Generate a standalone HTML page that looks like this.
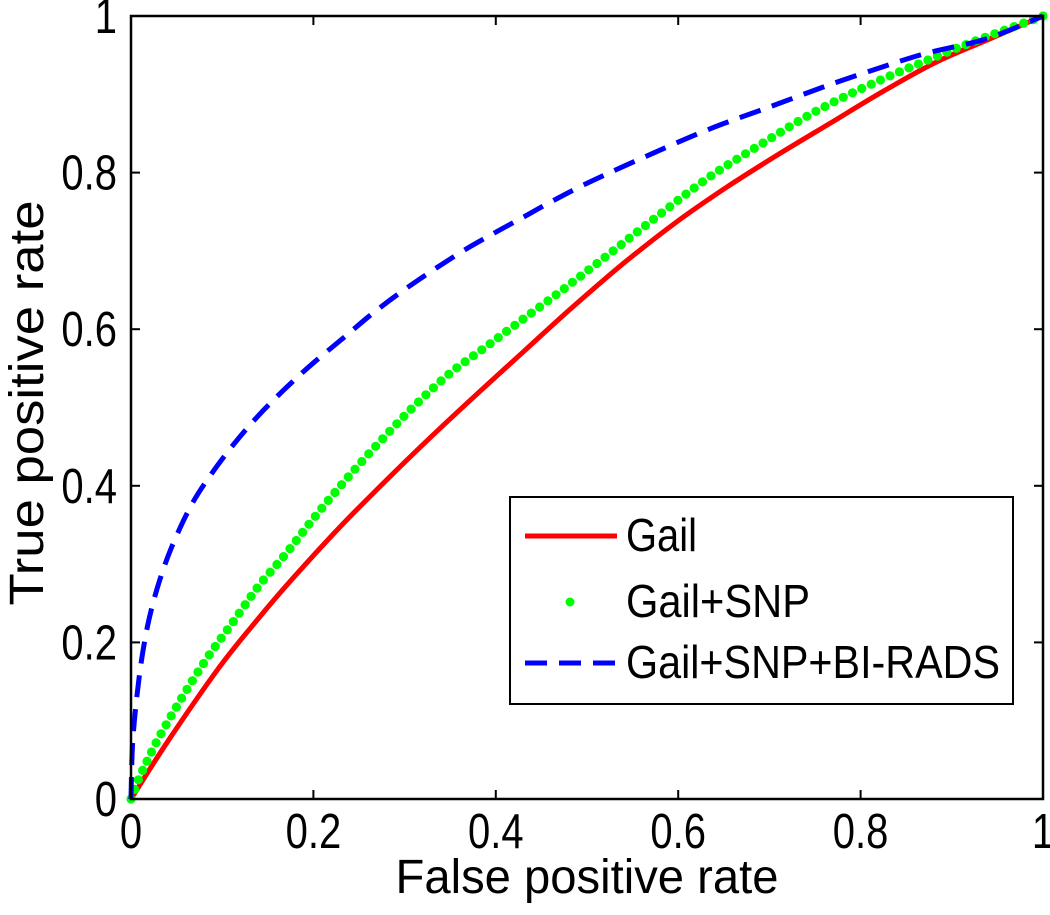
<!DOCTYPE html>
<html><head><meta charset="utf-8"><style>
html,body{margin:0;padding:0;background:#fff;}
svg{display:block;font-family:"Liberation Sans",Arial,sans-serif;}
</style></head><body>
<svg id="chart" width="1050" height="915" viewBox="0 0 1050 915" xmlns="http://www.w3.org/2000/svg">
<rect x="0" y="0" width="1050" height="915" fill="#fff"/>
<g id="series"></g>
<rect x="131" y="16" width="912" height="783" fill="none" stroke="#000" stroke-width="2.5"/>
<g id="ticks"></g>
<g transform="translate(587,893) scale(1,1.2)"><text x="0" y="0" text-anchor="middle" font-size="40" textLength="383" lengthAdjust="spacingAndGlyphs">False positive rate</text></g>
<g transform="translate(43,403) rotate(-90) scale(1,1.2)"><text x="0" y="0" text-anchor="middle" font-size="40" textLength="405" lengthAdjust="spacingAndGlyphs">True positive rate</text></g>
<g>
<rect x="510" y="497" width="503" height="207" fill="#fff" stroke="#000" stroke-width="2"/>
<line x1="525" y1="536" x2="617" y2="536" stroke="#ff0000" stroke-width="5"/>
<g transform="translate(626,551) scale(1,1.15)"><text font-size="40" textLength="71" lengthAdjust="spacingAndGlyphs">Gail</text></g>
<circle cx="570" cy="602" r="4.5" fill="#00ff00"/>
<g transform="translate(626,617) scale(1,1.15)"><text font-size="40" textLength="184" lengthAdjust="spacingAndGlyphs">Gail+SNP</text></g>
<line x1="525" y1="663" x2="617" y2="663" stroke="#0000ff" stroke-width="5" stroke-dasharray="22,12"/>
<g transform="translate(626,678) scale(1,1.15)"><text font-size="40" textLength="374" lengthAdjust="spacingAndGlyphs">Gail+SNP+BI-RADS</text></g>
</g>
</svg>
<script>
const xTicks = [0, 0.2, 0.4, 0.6, 0.8, 1];
const yTicks = [0, 0.2, 0.4, 0.6, 0.8, 1];
const xTickLabels = ["0", "0.2", "0.4", "0.6", "0.8", "1"];
const yTickLabels = ["0", "0.2", "0.4", "0.6", "0.8", "1"];
const gailX = [0, 0.04, 0.096, 0.14, 0.176, 0.228, 0.272, 0.324, 0.382, 0.432, 0.484, 0.541, 0.597, 0.654, 0.711, 0.768, 0.825, 0.881, 0.938, 1];
const gailY = [0, 0.073, 0.167, 0.231, 0.28, 0.346, 0.398, 0.457, 0.52, 0.573, 0.628, 0.685, 0.736, 0.782, 0.824, 0.864, 0.904, 0.94, 0.969, 1];
const snpX = [0, 0.009, 0.02, 0.029, 0.05, 0.07, 0.09, 0.11, 0.14, 0.169, 0.2, 0.232, 0.268, 0.309, 0.349, 0.392, 0.43, 0.465, 0.522, 0.578, 0.635, 0.692, 0.749, 0.806, 0.862, 0.919, 1];
const snpY = [0, 0.027, 0.054, 0.075, 0.118, 0.156, 0.191, 0.223, 0.272, 0.312, 0.358, 0.403, 0.45, 0.5, 0.543, 0.58, 0.613, 0.643, 0.694, 0.745, 0.795, 0.837, 0.877, 0.91, 0.938, 0.965, 1];
const biradsX = [0, 0.002, 0.009, 0.018, 0.029, 0.044, 0.066, 0.088, 0.114, 0.14, 0.169, 0.199, 0.232, 0.268, 0.309, 0.36, 0.397, 0.43, 0.461, 0.503, 0.567, 0.635, 0.703, 0.768, 0.832, 0.874, 0.938, 1];
const biradsY = [0, 0.075, 0.156, 0.22, 0.27, 0.32, 0.375, 0.415, 0.455, 0.49, 0.524, 0.556, 0.588, 0.623, 0.658, 0.697, 0.722, 0.743, 0.763, 0.788, 0.822, 0.856, 0.885, 0.913, 0.938, 0.953, 0.971, 1];

const NS = "http://www.w3.org/2000/svg";
const X0 = 131, X1 = 1043, Y0 = 799, Y1 = 16;
function sx(v){ return X0 + v * (X1 - X0); }
function sy(v){ return Y0 - v * (Y0 - Y1); }
function pathD(xs, ys){
  const p = xs.map((x,i)=>[sx(x), sy(ys[i])]);
  let d = "M" + p[0][0].toFixed(1) + "," + p[0][1].toFixed(1);
  for (let i = 0; i < p.length - 1; i++) {
    const p0 = p[Math.max(0,i-1)], p1 = p[i], p2 = p[i+1], p3 = p[Math.min(p.length-1,i+2)];
    const c1x = p1[0] + (p2[0]-p0[0])/6, c1y = p1[1] + (p2[1]-p0[1])/6;
    const c2x = p2[0] - (p3[0]-p1[0])/6, c2y = p2[1] - (p3[1]-p1[1])/6;
    d += " C" + c1x.toFixed(1) + "," + c1y.toFixed(1) + " " + c2x.toFixed(1) + "," + c2y.toFixed(1) + " " + p2[0].toFixed(1) + "," + p2[1].toFixed(1);
  }
  return d;
}

const series = document.getElementById("series");
const ticks = document.getElementById("ticks");

const red = document.createElementNS(NS, "path");


red.setAttribute("d", pathD(gailX, gailY));
red.setAttribute("fill", "none"); red.setAttribute("stroke", "#ff0000"); red.setAttribute("stroke-width", "5");
series.appendChild(red);

const snpPath = document.createElementNS(NS, "path");


snpPath.setAttribute("d", pathD(snpX, snpY));
snpPath.setAttribute("fill", "none"); snpPath.setAttribute("stroke", "none");
series.appendChild(snpPath);
const total = snpPath.getTotalLength();
const n = Math.round(total / 10.3);
for (let i = 0; i <= n; i++) {
  const p = snpPath.getPointAtLength(total * i / n);
  const c = document.createElementNS(NS, "circle");
  
  
  c.setAttribute("cx", p.x.toFixed(1)); c.setAttribute("cy", p.y.toFixed(1));
  c.setAttribute("r", "4.6"); c.setAttribute("fill", "#00ff00");
  series.appendChild(c);
}

const blue = document.createElementNS(NS, "path");


blue.setAttribute("d", pathD(biradsX, biradsY));
blue.setAttribute("fill", "none"); blue.setAttribute("stroke", "#0000ff"); blue.setAttribute("stroke-width", "5");
blue.setAttribute("stroke-dasharray", "22,12");
series.appendChild(blue);

xTicks.forEach((v,i)=>{
  const x = sx(v);
  const t1 = document.createElementNS(NS, "line");
  
  
  t1.setAttribute("x1", x); t1.setAttribute("x2", x); t1.setAttribute("y1", Y0); t1.setAttribute("y2", Y0-9);
  t1.setAttribute("stroke", "#000"); t1.setAttribute("stroke-width", "2");
  ticks.appendChild(t1);
  const t2 = document.createElementNS(NS, "line");
  
  
  t2.setAttribute("x1", x); t2.setAttribute("x2", x); t2.setAttribute("y1", Y1); t2.setAttribute("y2", Y1+9);
  t2.setAttribute("stroke", "#000"); t2.setAttribute("stroke-width", "2");
  ticks.appendChild(t2);
  const g = document.createElementNS(NS, "g");
  
  
  g.setAttribute("transform", "translate(" + x + ",848) scale(1,1.22)");
  const t = document.createElementNS(NS, "text");
  t.setAttribute("text-anchor", "middle"); t.setAttribute("font-size", "40");
  t.textContent = xTickLabels[i];
  g.appendChild(t); ticks.appendChild(g);
});
yTicks.forEach((v,i)=>{
  const y = sy(v);
  const t1 = document.createElementNS(NS, "line");
  
  
  t1.setAttribute("x1", X0); t1.setAttribute("x2", X0+9); t1.setAttribute("y1", y); t1.setAttribute("y2", y);
  t1.setAttribute("stroke", "#000"); t1.setAttribute("stroke-width", "2");
  ticks.appendChild(t1);
  const t2 = document.createElementNS(NS, "line");
  
  
  t2.setAttribute("x1", X1); t2.setAttribute("x2", X1-9); t2.setAttribute("y1", y); t2.setAttribute("y2", y);
  t2.setAttribute("stroke", "#000"); t2.setAttribute("stroke-width", "2");
  ticks.appendChild(t2);
  const g = document.createElementNS(NS, "g");
  
  
  g.setAttribute("transform", "translate(117," + (y + 17) + ") scale(1,1.22)");
  const t = document.createElementNS(NS, "text");
  t.setAttribute("text-anchor", "end"); t.setAttribute("font-size", "40");
  t.textContent = yTickLabels[i];
  g.appendChild(t); ticks.appendChild(g);
});
</script>
</body></html>
